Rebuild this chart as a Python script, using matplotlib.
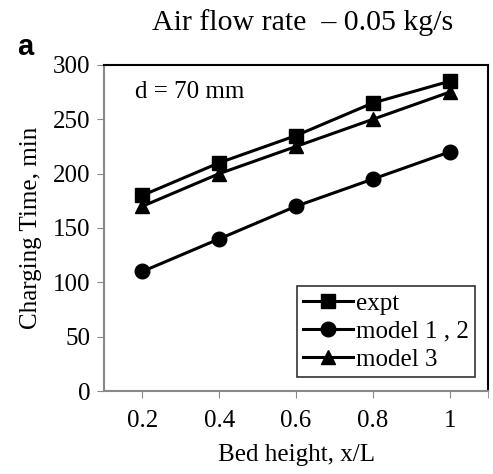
import matplotlib.pyplot as plt

# bed height positions and charging times
bed_height = [0.2, 0.4, 0.6, 0.8, 1.0]
expt = [180, 210, 235, 265, 285]
model_12 = [110, 140, 170, 195, 220]
model_3 = [170, 200, 225, 250, 275]
x_ticklabels = ['0.2', '0.4', '0.6', '0.8', '1']
y_ticks = [0, 50, 100, 150, 200, 250, 300]

plt.rcParams['font.family'] = ['Liberation Serif', 'DejaVu Serif']

fig = plt.figure(figsize=(4.93, 4.74), dpi=100)
ax = fig.add_axes([0.211, 0.175, 0.779, 0.688])

ax.plot(bed_height, expt, color='black', lw=2.2, marker='s', ms=10.5, label='expt')
ax.plot(bed_height, model_12, color='black', lw=2.2, marker='o', ms=10.5, label='model 1 , 2')
ax.plot(bed_height, model_3, color='black', lw=2.2, marker='^', ms=10.5, label='model 3')

ax.set_xlim(0.1, 1.1)
ax.set_ylim(0, 300)
ax.set_xticks(bed_height)
ax.set_xticklabels(x_ticklabels)
ax.set_xticks([1.1], minor=True)
ax.set_yticks(y_ticks)
ax.tick_params(axis='both', labelsize=18, direction='out', length=5, color='#888888')
ax.tick_params(axis='y', pad=5)
ax.tick_params(axis='x', pad=9)
ax.tick_params(axis='x', which='minor', length=5, color='#888888')

for side in ['left', 'bottom']:
    ax.spines[side].set_color('#888888')
    ax.spines[side].set_linewidth(1.5)
for side in ['top', 'right']:
    ax.spines[side].set_color('black')
    ax.spines[side].set_linewidth(1.5)

ax.set_xlabel('Bed height, x/L', fontsize=18, labelpad=8)
ax.set_ylabel('Charging Time, min', fontsize=18, labelpad=8)

ax.text(0.18, 275, 'd = 70 mm', fontsize=18, va='center')

leg = ax.legend(loc='lower right', bbox_to_anchor=(0.966, 0.043), fontsize=18,
                frameon=True, fancybox=False, edgecolor='black', handlelength=2.0,
                handletextpad=0.1, borderpad=0.25, labelspacing=0.22, borderaxespad=0)
leg.get_frame().set_linewidth(1.2)

fig.text(0.613, 0.952, 'Air flow rate  \u2013 0.05 kg/s', fontsize=21.5, ha='center', va='center')
fig.text(0.035, 0.9, 'a', fontsize=21, fontweight='bold', family='Liberation Sans',
         ha='left', va='center')

fig.savefig('out.png', dpi=100)
